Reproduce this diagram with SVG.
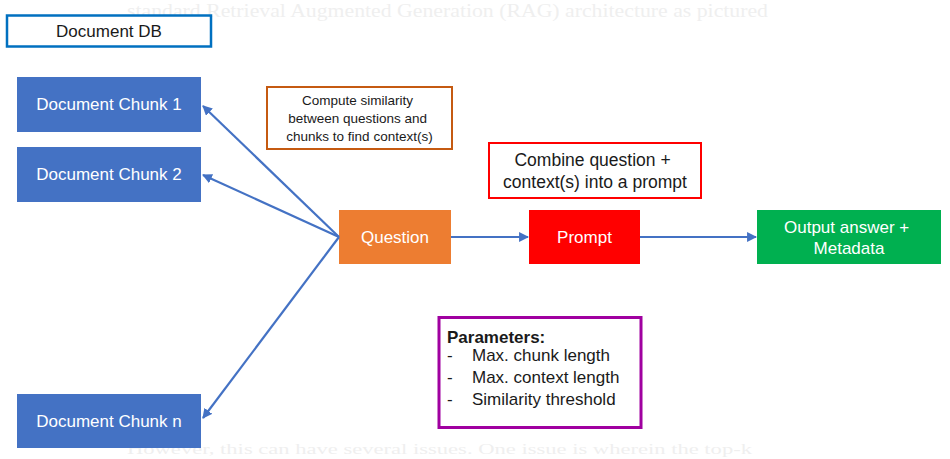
<svg xmlns="http://www.w3.org/2000/svg" width="950" height="459" viewBox="0 0 950 459">
  <style>
    .ghost { font-family: "Liberation Serif", serif; fill: #efefef; }
    .chunk rect { fill: #4472c4; }
    .wt { font-family: "Liberation Sans", Arial, sans-serif; font-size: 17px; fill: #ffffff; text-anchor: middle; }
    .dk { font-family: "Liberation Sans", Arial, sans-serif; fill: #1a1a1a; }
    .conn { stroke: #4472c4; stroke-width: 2.2; fill: none; marker-end: url(#ah); }
  </style>
  <defs>
    <marker id="ah" viewBox="0 0 10 10" refX="9" refY="5" markerWidth="4.5" markerHeight="4.5" orient="auto-start-reverse" markerUnits="strokeWidth">
      <path d="M0,0 L10,5 L0,10 z" fill="#4472c4"/>
    </marker>
  </defs>
  <rect width="950" height="459" fill="#ffffff"/>

  <text class="ghost" x="127" y="17" font-size="19" textLength="641" lengthAdjust="spacingAndGlyphs">standard Retrieval Augmented Generation (RAG) architecture as pictured</text>
  <text class="ghost" x="127" y="454" font-size="15" textLength="625" lengthAdjust="spacingAndGlyphs">However, this can have several issues. One issue is wherein the top-k</text>

  <g id="document-db">
    <rect x="7" y="15.5" width="204" height="31" fill="#ffffff" stroke="#0070c0" stroke-width="2.5"/>
    <text class="dk" x="109" y="37" font-size="17" text-anchor="middle">Document DB</text>
  </g>

  <g id="chunk-1" class="chunk">
    <rect x="17" y="77" width="184" height="55"/>
    <text class="wt" x="109" y="110">Document Chunk 1</text>
  </g>
  <g id="chunk-2" class="chunk">
    <rect x="17" y="147" width="184" height="55"/>
    <text class="wt" x="109" y="180">Document Chunk 2</text>
  </g>
  <g id="chunk-n" class="chunk">
    <rect x="17" y="394" width="184" height="54"/>
    <text class="wt" x="109" y="427">Document Chunk n</text>
  </g>

  <g id="similarity-note">
    <rect x="267" y="87" width="185" height="62" fill="#ffffff" stroke="#c55a11" stroke-width="2"/>
    <text class="dk" font-size="13.5" text-anchor="middle">
      <tspan x="359.5" y="105">Compute similarity</tspan>
      <tspan x="359.5" y="123">between questions and</tspan>
      <tspan x="359.5" y="141">chunks to find context(s)</tspan>
    </text>
  </g>

  <g id="question">
    <rect x="339" y="210" width="112" height="54" fill="#ed7d31"/>
    <text class="wt" x="395" y="243">Question</text>
  </g>

  <g id="combine-note">
    <rect x="489" y="143" width="212" height="55" fill="#ffffff" stroke="#ff0000" stroke-width="2"/>
    <text class="dk" font-size="17.5" text-anchor="middle">
      <tspan x="595" y="166">Combine question +</tspan>
      <tspan x="595" y="188">context(s) into a prompt</tspan>
    </text>
  </g>

  <g id="prompt">
    <rect x="529" y="210" width="111" height="54" fill="#ff0000"/>
    <text class="wt" x="584.5" y="243">Prompt</text>
  </g>

  <g id="output">
    <rect x="757" y="210" width="184" height="54" fill="#00b050"/>
    <text class="wt">
      <tspan x="849" y="233">Output answer +</tspan>
      <tspan x="849" y="254">Metadata</tspan>
    </text>
  </g>

  <g id="parameters">
    <rect x="439" y="317.5" width="202" height="110" fill="#ffffff" stroke="#a000a0" stroke-width="3"/>
    <text class="dk" x="447" y="343" font-size="17" font-weight="bold">Parameters:</text>
    <text class="dk" font-size="17">
      <tspan x="447" y="361">-</tspan>
      <tspan x="472" y="361">Max. chunk length</tspan>
      <tspan x="447" y="383">-</tspan>
      <tspan x="472" y="383">Max. context length</tspan>
      <tspan x="447" y="405">-</tspan>
      <tspan x="472" y="405">Similarity threshold</tspan>
    </text>
  </g>

  <g id="connectors">
    <line class="conn" x1="339" y1="237" x2="203" y2="106"/>
    <line class="conn" x1="339" y1="237" x2="203" y2="175"/>
    <line class="conn" x1="339" y1="237" x2="203" y2="418"/>
    <line class="conn" x1="451" y1="237" x2="528" y2="237"/>
    <line class="conn" x1="640" y1="237" x2="756" y2="237"/>
  </g>
</svg>
